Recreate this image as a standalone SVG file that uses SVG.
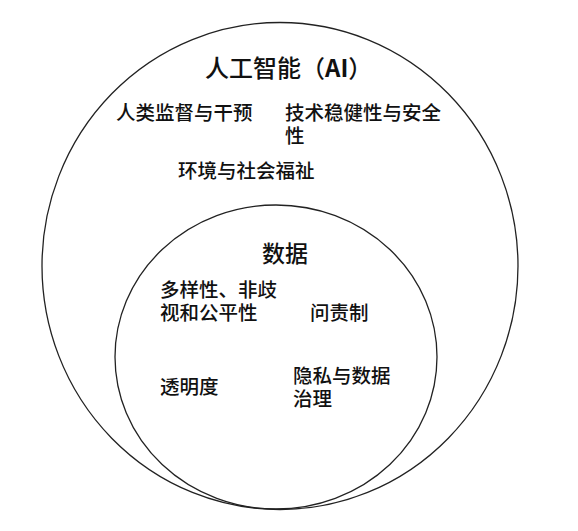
<svg xmlns="http://www.w3.org/2000/svg" width="578" height="531" viewBox="0 0 578 531">
<style>
.ring{fill:none;stroke:#222;stroke-width:1.3}
.t{font-family:"Noto Sans CJK SC","Noto Sans",sans-serif;fill:#111;font-size:19.5px;font-weight:500}
.h{font-size:24px}
.h2{font-size:23px}
</style>
<rect width="578" height="531" fill="#fff"/>
<g id="ai">
<ellipse class="ring" cx="280" cy="266" rx="238" ry="243.5"/>
<text class="t h" x="205" y="77">人工智能（<tspan font-weight="bold">AI</tspan>）</text>
<text class="t" x="116" y="120">人类监督与干预</text>
<text class="t" x="285" y="120">技术稳健性与安全</text>
<text class="t" x="285" y="143">性</text>
<text class="t" x="178" y="178">环境与社会福祉</text>
</g>
<g id="data">
<ellipse class="ring" cx="276" cy="357" rx="161" ry="152"/>
<text class="t h2" x="262" y="262">数据</text>
<text class="t" x="160" y="297">多样性、非歧</text>
<text class="t" x="160" y="320">视和公平性</text>
<text class="t" x="310" y="320">问责制</text>
<text class="t" x="160" y="394">透明度</text>
<text class="t" x="293" y="383">隐私与数据</text>
<text class="t" x="293" y="406">治理</text>
</g>
<g id="connectors"/>
</svg>
